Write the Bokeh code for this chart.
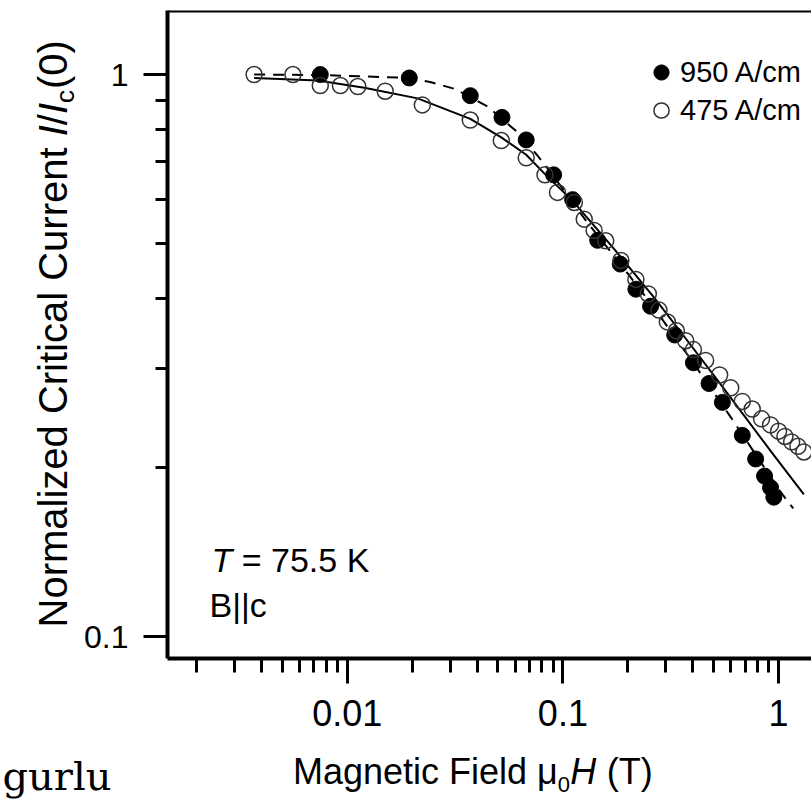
from bokeh.plotting import figure
from bokeh.layouts import row, column
from bokeh.models import (FixedTicker, CustomJSTickFormatter, Label, Legend,
                          LegendItem, Span, Range1d)
from bokeh.embed import file_html
from bokeh.resources import INLINE
import math

# ---------------- data ----------------
field_950 = [0.0075, 0.0194, 0.0372, 0.0522, 0.0676, 0.0906, 0.111, 0.145,
             0.1845, 0.218, 0.255, 0.330, 0.403, 0.476, 0.549, 0.679, 0.783,
             0.861, 0.918, 0.951]
ic_950 = [1.0, 0.986, 0.917, 0.839, 0.765, 0.663, 0.599, 0.507,
          0.460, 0.415, 0.387, 0.344, 0.307, 0.282, 0.261, 0.228, 0.207,
          0.193, 0.184, 0.177]

field_475 = [0.0037, 0.0056, 0.0075, 0.0093, 0.0112, 0.015, 0.0223, 0.0372,
             0.0518, 0.0676, 0.0826, 0.0944, 0.113, 0.1256, 0.1396, 0.158,
             0.1857, 0.218, 0.249, 0.279, 0.305, 0.336, 0.371, 0.403, 0.459,
             0.533, 0.600, 0.679, 0.755, 0.834, 0.918, 1.0, 1.07, 1.15, 1.23,
             1.31]
ic_475 = [1.0, 1.0, 0.956, 0.956, 0.952, 0.934, 0.883, 0.830,
          0.763, 0.711, 0.663, 0.617, 0.592, 0.553, 0.528, 0.506,
          0.467, 0.432, 0.407, 0.381, 0.363, 0.350, 0.336, 0.324, 0.310,
          0.292, 0.277, 0.262, 0.254, 0.244, 0.238, 0.232, 0.227, 0.222, 0.218,
          0.213]

fit_950_x = [0.0037, 0.0076, 0.0194, 0.0245, 0.0315, 0.0448, 0.0617, 0.0764,
             0.090, 0.13, 0.18, 0.26, 0.40, 0.599, 1.02, 1.17]
fit_950_y = [1.0, 0.998, 0.986, 0.969, 0.943, 0.877, 0.789, 0.717,
             0.661, 0.545, 0.466, 0.388, 0.308, 0.246, 0.181, 0.169]

fit_475_x = [0.0037, 0.0073, 0.012, 0.0212, 0.0372, 0.0518, 0.0676, 0.0826,
             0.111, 0.173, 0.265, 0.378, 0.539, 0.918, 1.31]
fit_475_y = [0.986, 0.976, 0.947, 0.907, 0.834, 0.773, 0.720, 0.665,
             0.596, 0.489, 0.401, 0.336, 0.281, 0.214, 0.179]

x_major = [0.01, 0.1, 1.0]
x_major_labels = ["0.01", "0.1", "1"]
x_minor = [0.002, 0.003, 0.004, 0.005, 0.006, 0.007, 0.008, 0.009,
           0.02, 0.03, 0.04, 0.05, 0.06, 0.07, 0.08, 0.09,
           0.2, 0.3, 0.4, 0.5, 0.6, 0.7, 0.8, 0.9]
y_major = [0.1, 1.0]
y_major_labels = ["0.1", "1"]
y_minor = [0.2, 0.3, 0.4, 0.5, 0.6, 0.7, 0.8, 0.9]

legend_labels = ["950 A/cm", "475 A/cm"]

FONT = "Liberation Sans"
LEFT_W = 81
TOTAL_W = 811
MAIN_H = 745
BOTTOM_H = 54
B_TOP = 10
B_BOTTOM = 87


def blank_fig(w, h, top=0, bottom=0):
    f = figure(width=w, height=h, x_range=Range1d(0, 1), y_range=Range1d(0, 1),
               x_axis_location=None, y_axis_location=None,
               output_backend="svg", toolbar_location=None,
               min_border_left=0, min_border_right=0,
               min_border_top=top, min_border_bottom=bottom)
    f.outline_line_color = None
    f.grid.visible = False
    f.background_fill_color = "white"
    f.border_fill_color = "white"
    return f


def lab(fig, x, y, text, size, italic=False, angle=0.0, font=FONT):
    fig.add_layout(Label(x=x, y=y, x_units="screen", y_units="screen", text=text,
                         text_font=font, text_font_size=f"{size}px",
                         text_font_style="italic" if italic else "normal",
                         angle=angle, text_align="left", text_baseline="alphabetic",
                         text_color="black"))


# ---------------- main figure ----------------
p = figure(width=TOTAL_W - LEFT_W, height=MAIN_H, x_axis_type="log", y_axis_type="log",
           x_range=Range1d(0.001468, 1.4214), y_range=Range1d(0.0914, 1.300),
           output_backend="svg", toolbar_location=None,
           min_border_left=166 - LEFT_W, min_border_right=0, min_border_top=B_TOP,
           min_border_bottom=B_BOTTOM)
p.outline_line_color = None
p.grid.visible = False
p.background_fill_color = "white"
p.border_fill_color = "white"

fmt_code = """
for (let k = 0; k < vals.length; k++) {
  if (Math.abs(Math.log10(vals[k]) - Math.log10(tick)) < 1e-6) return labels[k];
}
return "";
"""
xa = p.xaxis[0]
xa.ticker = FixedTicker(ticks=x_major, minor_ticks=x_minor)
xa.formatter = CustomJSTickFormatter(args=dict(vals=x_major, labels=x_major_labels), code=fmt_code)
xa.major_tick_out = 25
xa.minor_tick_out = 14
xa.major_label_standoff = 16
xa.major_label_text_font_size = "36px"

ya = p.yaxis[0]
ya.ticker = FixedTicker(ticks=y_major, minor_ticks=y_minor)
ya.formatter = CustomJSTickFormatter(args=dict(vals=y_major, labels=y_major_labels), code=fmt_code)
ya.major_tick_out = 24
ya.minor_tick_out = 12
ya.major_label_standoff = 15
ya.major_label_text_font_size = "32px"

for ax in (xa, ya):
    ax.axis_line_width = 4
    ax.axis_line_color = "black"
    ax.major_tick_line_width = 3
    ax.minor_tick_line_width = 3
    ax.major_tick_line_color = "black"
    ax.minor_tick_line_color = "black"
    ax.major_tick_in = 0
    ax.minor_tick_in = 0
    ax.major_label_text_font = FONT
    ax.major_label_text_color = "black"
    ax.axis_label = None

p.add_layout(Span(location=1.300, dimension="width", line_color="black", line_width=4))

p.line(fit_950_x, fit_950_y, line_color="black", line_width=2, line_dash="11 8")
p.line(fit_475_x, fit_475_y, line_color="black", line_width=2)
r950 = p.scatter(field_950, ic_950, marker="circle", size=16,
                 fill_color="black", line_color="black", line_width=1)
r475 = p.scatter(field_475, ic_475, marker="circle", size=16,
                 fill_color="white", fill_alpha=0, line_color="#333333", line_width=1.5)

legend = Legend(items=[LegendItem(label=legend_labels[0], renderers=[r950]),
                       LegendItem(label=legend_labels[1], renderers=[r475])],
                location=(475, 529), orientation="vertical",
                border_line_color=None, background_fill_alpha=0,
                padding=0, margin=0, spacing=-3,
                glyph_height=38, glyph_width=38, label_standoff=0,
                label_text_font=FONT, label_text_font_size="29px",
                label_text_color="black")
p.add_layout(legend)

# baseline correction observed for Label text (text sits lower than its anchor)
SH = 14
ts = 34
lab(p, 44, 85 + SH, "T", ts, italic=True)
lab(p, 44 + (0.611 + 0.278) * ts, 85 + SH, "= 75.5 K", ts)
lab(p, 42, 40 + SH, "B||c", ts)

# ---------------- left strip: y-axis title ----------------
left = blank_fig(LEFT_W, MAIN_H, top=B_TOP, bottom=B_BOTTOM)
ys = 40
base_x = 65
yb = base_x - 13
y0 = (MAIN_H - B_BOTTOM) - 627
w_prefix = 12.279 * ys
w_I = 0.278 * ys
sub = 26
A = math.pi / 2
lab(left, yb, y0, "Normalized Critical Current", ys, angle=A)
lab(left, yb, y0 + w_prefix, "I", ys, italic=True, angle=A)
lab(left, yb, y0 + w_prefix + w_I, "/", ys, angle=A)
lab(left, yb, y0 + w_prefix + 2 * w_I, "I", ys, italic=True, angle=A)
lab(left, base_x + 7 - 8, y0 + w_prefix + 3 * w_I, "c", sub, angle=A)
lab(left, yb, y0 + w_prefix + 3 * w_I + 0.5 * sub + 1, "(0)", ys, angle=A)

# ---------------- bottom strip: x-axis title ----------------
bottom = blank_fig(TOTAL_W, BOTTOM_H)
xs = 36
xb = 15 + 13
x0 = 292.5
w_pre = 7.356 * xs
lab(bottom, x0, xb, "Magnetic Field \u03bc", xs)
lab(bottom, x0 + w_pre, 7 + 8, "0", 22)
lab(bottom, x0 + w_pre + 12.5, xb, "H", xs, italic=True)
lab(bottom, x0 + w_pre + 12.5 + 26.5 + 0.278 * xs, xb, "(T)", xs)
# stray caption fragment at the bottom-left of the picture
lab(bottom, 2, 9 + 15, "gurlu", 40, font="DejaVu Serif")

layout = column(row(left, p, spacing=0), bottom, spacing=0)
open("out.html", "w").write(file_html(layout, INLINE))
